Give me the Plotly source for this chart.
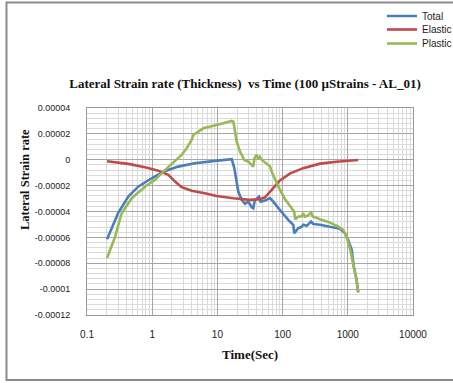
import plotly.graph_objects as go

# Time (s) and lateral strain rate for each component
total_t = [0.203, 0.30, 0.43, 0.61, 0.98, 1.48, 2.5, 4.5, 9.2, 14.7, 16.6, 18.2, 19.8,
           20.9, 23.6, 26.5, 29.8, 33.6, 35.5, 37.6, 39.6, 43.5, 46, 53.7, 64, 72, 91,
           122, 146, 151, 174, 195, 207, 234, 273, 296, 375, 533, 759, 906, 1010, 1148,
           1230, 1360, 1445]
total_v = [-6.14e-5, -4.13e-5, -2.85e-5, -2.08e-5, -1.43e-5, -0.92e-5, -0.53e-5, -0.27e-5,
           -0.09e-5, -0.02e-5, 0.05e-5, -0.66e-5, -1.95e-5, -2.46e-5, -3.1e-5, -3.41e-5,
           -3.24e-5, -3.67e-5, -3.75e-5, -3.1e-5, -3.05e-5, -2.85e-5, -3.24e-5, -3.16e-5,
           -2.97e-5, -3.24e-5, -3.88e-5, -4.65e-5, -5.03e-5, -5.68e-5, -5.29e-5, -5.2e-5,
           -5.03e-5, -5.11e-5, -4.78e-5, -4.96e-5, -5.03e-5, -5.16e-5, -5.34e-5, -5.68e-5,
           -6.19e-5, -6.97e-5, -8.2e-5, -9.25e-5, -10.25e-5]

elastic_t = [0.203, 0.43, 0.776, 1.24, 1.77, 2.24, 2.83, 4.03, 6.4, 9.7, 17.6, 31.4, 44.6,
             53.7, 68, 91, 131, 207, 375, 670, 1445]
elastic_v = [-0.12e-5, -0.32e-5, -0.58e-5, -0.84e-5, -1.17e-5, -1.69e-5, -2.12e-5, -2.39e-5,
             -2.59e-5, -2.8e-5, -2.97e-5, -3.1e-5, -3.05e-5, -2.9e-5, -2.33e-5, -1.6e-5,
             -1.05e-5, -0.65e-5, -0.3e-5, -0.15e-5, -0.02e-5]

plastic_t = [0.203, 0.27, 0.34, 0.485, 0.776, 1.10, 1.48, 1.99, 2.83, 3.37, 4.03, 4.27, 6.08,
             9.7, 13.9, 16.6, 17.6, 18.6, 19.8, 22.2, 25.9, 29.8, 33.6, 35.5, 37, 39.6, 42,
             44.6, 47.4, 57, 64, 68, 86, 109, 138, 150, 156, 174, 195, 207, 218, 245, 273,
             290, 375, 533, 706, 850, 960, 1093, 1230, 1360, 1445]
plastic_v = [-7.6e-5, -5.94e-5, -4.13e-5, -2.97e-5, -2.08e-5, -1.56e-5, -0.92e-5, -0.32e-5,
             0.37e-5, 0.89e-5, 1.53e-5, 1.91e-5, 2.43e-5, 2.69e-5, 2.86e-5, 3.0e-5, 2.94e-5,
             2.05e-5, 1.40e-5, 0.63e-5, -0.02e-5, -0.15e-5, -0.4e-5, -0.53e-5, 0.12e-5,
             0.37e-5, 0.12e-5, 0.24e-5, 0.0, -0.27e-5, -0.5e-5, -0.92e-5, -2.08e-5, -3.05e-5,
             -3.75e-5, -4.0e-5, -4.6e-5, -4.39e-5, -4.39e-5, -4.13e-5, -4.39e-5, -4.31e-5,
             -4.08e-5, -4.39e-5, -4.6e-5, -4.86e-5, -5.16e-5, -5.42e-5, -5.94e-5, -6.97e-5,
             -8.25e-5, -9.28e-5, -10.26e-5]

x_ticks = [0.1, 1, 10, 100, 1000, 10000]
x_labels = ["0.1", "1", "10", "100", "1000", "10000"]
x_minor = [m * 10 ** e for e in range(-1, 4) for m in range(2, 10)]
y_ticks = [4e-5, 2e-5, 0, -2e-5, -4e-5, -6e-5, -8e-5, -10e-5, -12e-5]
y_labels = ["0.00004", "0.00002", "0", "-0.00002", "-0.00004", "-0.00006",
            "-0.00008", "-0.0001", "-0.00012"]

BLUE, RED, GREEN = "#4a7ebb", "#be4b48", "#98b954"
W, H = 453, 383

fig = go.Figure()
series = [("Total", total_t, total_v, BLUE, "legend"),
          ("Elastic", elastic_t, elastic_v, RED, "legend2"),
          ("Plastic", plastic_t, plastic_v, GREEN, "legend3")]
for name, t, v, c, lg in series:
    fig.add_trace(go.Scatter(x=t, y=v, name=name, mode="lines", showlegend=True,
                             line=dict(color=c, width=2.6), legend=lg))

# one legend box per series, pinned to the figure so the plot area is not resized
leg_common = dict(xref="container", yref="container", xanchor="left", yanchor="middle",
                  bgcolor="rgba(0,0,0,0)", itemwidth=30, x=382 / W,
                  font=dict(family="Liberation Sans", size=10, color="#222"))
fig.update_layout(
    showlegend=True,
    legend=dict(y=1 - 16 / H, **leg_common),
    legend2=dict(y=1 - 29.5 / H, **leg_common),
    legend3=dict(y=1 - 43.5 / H, **leg_common),
)

fig.update_xaxes(
    type="log", range=[-1, 4], tickvals=x_ticks, ticktext=x_labels,
    showgrid=True, gridcolor="#a6a6a6", gridwidth=1,
    minor=dict(tickvals=x_minor, showgrid=True, gridcolor="#dadada", gridwidth=1),
    showline=True, linecolor="#9a9a9a", linewidth=1, mirror=True,
    zeroline=False, ticks="", ticklabelstandoff=10,
    tickfont=dict(family="Liberation Sans", size=10, color="#222"),
)
fig.update_yaxes(
    range=[-12e-5, 4e-5], tickvals=y_ticks, ticktext=y_labels,
    showgrid=True, gridcolor="#a6a6a6", gridwidth=1,
    minor=dict(dtick=4e-6, showgrid=True, gridcolor="#dadada", gridwidth=1),
    showline=True, linecolor="#9a9a9a", linewidth=1, mirror=True,
    zeroline=False, ticks="", ticklabelstandoff=14,
    tickfont=dict(family="Liberation Sans", size=9, color="#222"),
)

fig.update_layout(
    width=W, height=H,
    margin=dict(l=87, r=40, t=108, b=68, autoexpand=False),
    paper_bgcolor="white", plot_bgcolor="white",
    title=dict(text="<b>Lateral Strain rate (Thickness)\u00a0 vs Time (100 µStrains - AL_01)</b>",
               x=245 / W, xanchor="center", y=1 - 83 / H, yanchor="middle",
               font=dict(family="Liberation Serif", size=13, color="#111")),
    annotations=[
        dict(text="<b>Lateral Strain rate</b>", xref="paper", yref="paper",
             x=(25 - 87) / 326, y=(315 - 179) / 207, textangle=-90,
             showarrow=False, xanchor="center", yanchor="middle",
             font=dict(family="Liberation Serif", size=12.5, color="#111")),
        dict(text="<b>Time(Sec)</b>", xref="paper", yref="paper",
             x=0.5, y=(315 - 354) / 207, showarrow=False,
             xanchor="center", yanchor="middle",
             font=dict(family="Liberation Serif", size=13, color="#111")),
    ],
    shapes=[dict(type="rect", xref="paper", yref="paper",
                 x0=(6.5 - 87) / 326, x1=(470 - 87) / 326,
                 y0=(315 - 380) / 207, y1=(315 - 2.5) / 207,
                 line=dict(color="#8c8c8c", width=2), layer="below")],
)

fig.write_html("out.html")
